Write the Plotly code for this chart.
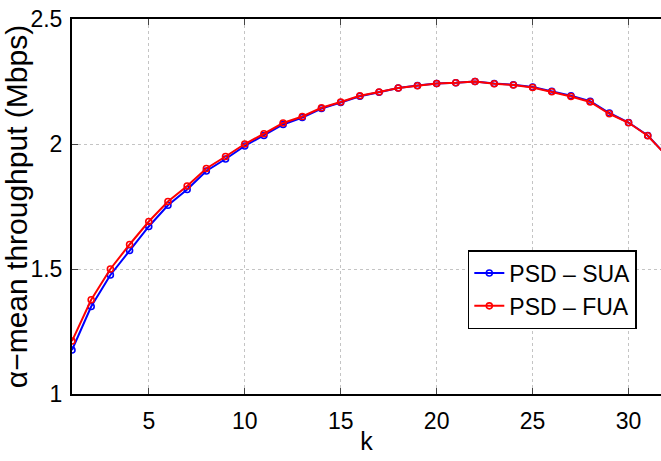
import plotly.graph_objects as go

k = list(range(1, 33))
sua = [1.176, 1.350, 1.476, 1.574, 1.670, 1.755, 1.818, 1.892, 1.940, 1.992,
       2.034, 2.078, 2.106, 2.142, 2.166, 2.191, 2.207, 2.224, 2.234, 2.242,
       2.245, 2.250, 2.242, 2.237, 2.228, 2.211, 2.193, 2.171, 2.124, 2.086,
       2.034, 1.952]
fua = [1.212, 1.377, 1.500, 1.598, 1.690, 1.770, 1.832, 1.902, 1.950, 2.000,
       2.041, 2.084, 2.110, 2.145, 2.168, 2.193, 2.208, 2.224, 2.233, 2.242,
       2.245, 2.250, 2.241, 2.236, 2.226, 2.209, 2.190, 2.168, 2.121, 2.085,
       2.033, 1.951]
x_ticks = [5, 10, 15, 20, 25, 30]
y_ticks = [1, 1.5, 2, 2.5]
y_tick_text = ["1", "1.5", "2", "2.5"]

FONT = "Liberation Sans, Arial, sans-serif"

fig = go.Figure()
fig.add_trace(go.Scatter(
    x=k, y=sua, mode="lines+markers", name="PSD \u2013 SUA",
    line=dict(color="#0000ff", width=2),
    marker=dict(symbol="circle-open", size=6, color="#0000ff", line=dict(width=1.6)),
))
fig.add_trace(go.Scatter(
    x=k, y=fua, mode="lines+markers", name="PSD \u2013 FUA",
    line=dict(color="#ff0000", width=2),
    marker=dict(symbol="circle-open", size=6, color="#ff0000", line=dict(width=1.6)),
))

fig.update_layout(
    width=661, height=461,
    margin=dict(l=72, r=0, t=19, b=67),
    paper_bgcolor="white", plot_bgcolor="white",
    font=dict(family=FONT, color="black", size=22),
    showlegend=True,
    legend=dict(
        x=0.672, y=0.384, xanchor="left", yanchor="top",
        bgcolor="white", bordercolor="black", borderwidth=1.5,
        font=dict(family=FONT, size=23, color="black"),
        itemwidth=30, tracegroupgap=0,
    ),
    xaxis=dict(
        range=[1, 31.69], tickmode="array", tickvals=x_ticks,
        showgrid=True, gridcolor="#c4c4c4", griddash="dot", gridwidth=1,
        showline=True, linecolor="black", linewidth=2, mirror="ticks",
        ticks="inside", ticklen=6, tickcolor="#444444", tickwidth=1,
        zeroline=False,
        tickfont=dict(family=FONT, size=23),
        ticklabelstandoff=5,
        title=dict(text="k", font=dict(family=FONT, size=25), standoff=0),
    ),
    yaxis=dict(
        range=[1, 2.5], tickmode="array", tickvals=y_ticks, ticktext=y_tick_text,
        showgrid=True, gridcolor="#c4c4c4", griddash="dot", gridwidth=1,
        showline=True, linecolor="black", linewidth=2, mirror=False,
        ticks="inside", ticklen=6, tickcolor="#444444", tickwidth=1,
        zeroline=False,
        tickfont=dict(family=FONT, size=23),
        ticklabelstandoff=3,
        title=dict(text="\u03b1\u2212mean throughput (Mbps)",
                   font=dict(family=FONT, size=30),
                   standoff=4),
    ),
)

fig.write_html("out.html")
